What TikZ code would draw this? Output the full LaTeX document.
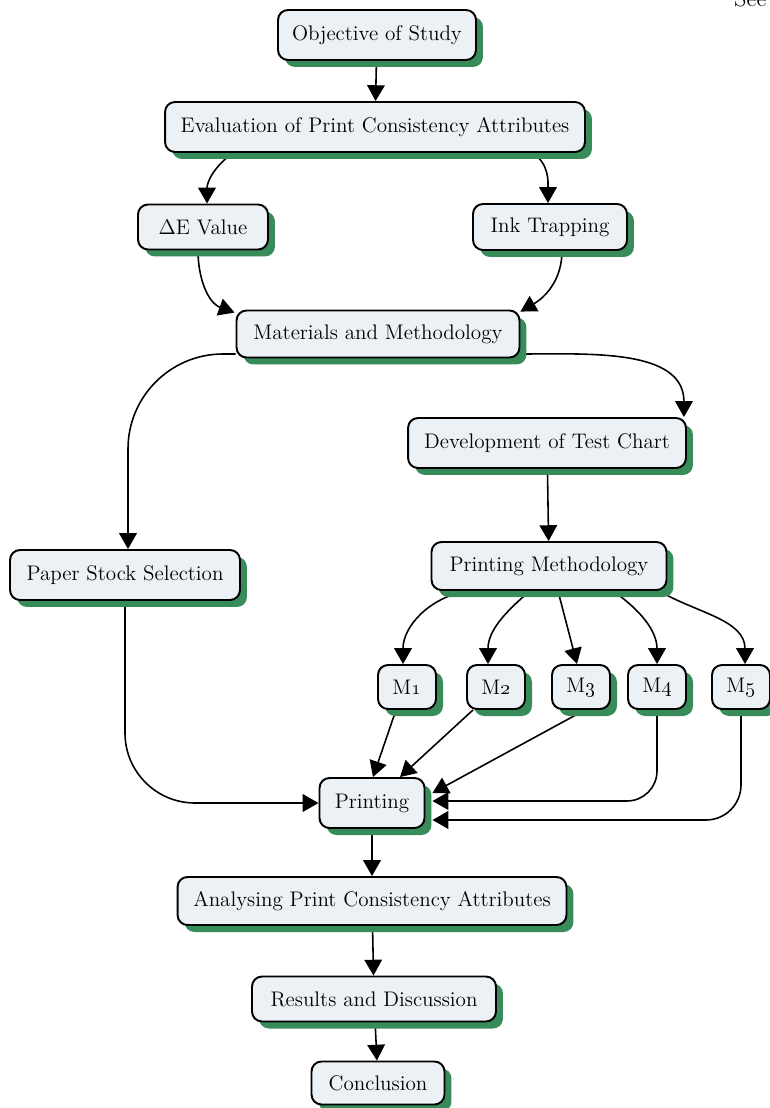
\documentclass[tikz,border=0pt]{standalone}
\usepackage{tikz}
\usetikzlibrary{arrows.meta,shadows,backgrounds}

\definecolor{boxfill}{RGB}{235,241,244}
\definecolor{shadegreen}{RGB}{55,140,90}

\begin{document}
\begin{tikzpicture}[x=0.02cm, y=0.02cm,
    stage/.style={draw, line width=1.1pt, rounded corners=0.2cm, fill=boxfill,
        font=\fontsize{12}{14}\selectfont, inner sep=2pt,
        drop shadow={shadow xshift=0.14cm, shadow yshift=-0.14cm, fill=shadegreen, opacity=1}},
    mbox/.style={stage, minimum width=1.16cm, minimum height=0.88cm},
    flow/.style={-{Triangle[width=10pt,length=9pt]}, line width=0.9pt}]
    \useasboundingbox (0,0) rectangle (769,-1108);
    % cut-off text at the top
    \node[anchor=base west, font=\fontsize{13}{15}\selectfont] (see) at (728,-7) {See};
    % boxes
    \node[stage, minimum width=3.96cm, minimum height=1cm] (obj) at (377,-35) {Objective of Study};
    \node[stage, minimum width=8.4cm, minimum height=1cm] (eval) at (375,-127) {Evaluation of Print Consistency Attributes};
    \node[stage, minimum width=2.6cm, minimum height=0.9cm] (dE) at (203,-227) {$\Delta$E Value};
    \node[stage, minimum width=3.08cm, minimum height=0.92cm] (ink) at (550,-227) {Ink Trapping};
    \node[stage, minimum width=5.66cm, minimum height=0.94cm] (mat) at (378,-334) {Materials and Methodology};
    \node[stage, minimum width=5.56cm, minimum height=1cm] (dev) at (547,-443) {Development of Test Chart};
    \node[stage, minimum width=4.6cm, minimum height=1cm] (paper) at (125,-575) {Paper Stock Selection};
    \node[stage, minimum width=4.7cm, minimum height=0.96cm] (pm) at (549,-566) {Printing Methodology};
    \foreach \i/\x in {1/407,2/496,3/581,4/657,5/741} {
        \node[mbox] (m\i) at (\x,-687) {M\oldstylenums{\i}};
    }
    \node[stage, minimum width=2.1cm, minimum height=1cm] (print) at (372,-803) {Printing};
    \node[stage, minimum width=7.78cm, minimum height=0.96cm] (ana) at (372,-901) {Analysing Print Consistency Attributes};
    \node[stage, minimum width=4.88cm, minimum height=0.9cm] (res) at (374,-999) {Results and Discussion};
    \node[stage, minimum width=2.66cm, minimum height=0.86cm] (conc) at (378,-1083) {Conclusion};
    % arrows
    \begin{scope}[on background layer]
        \draw[flow] (obj) -- (eval);
        \draw[flow] ([xshift=-2.84cm]eval.south) to[out=-145,in=90] ([xshift=0.08cm]dE.north);
        \draw[flow] ([xshift=3.16cm]eval.south) to[out=-35,in=90] ([xshift=-0.04cm]ink.north);
        \draw[flow] ([xshift=-0.1cm]dE.south) to[out=-90,in=160] ([xshift=-0.02cm,yshift=-0.06cm]mat.north west);
        \draw[flow] ([xshift=0.24cm]ink.south) to[out=-90,in=30] ([yshift=-0.04cm]mat.north east);
        \draw[flow] ([yshift=-0.4cm]mat.east) to[out=0,in=90] ([xshift=-0.06cm]dev.north east);
        \draw[flow, rounded corners=1.9cm] ([yshift=-0.4cm]mat.west) -| ([xshift=0.06cm]paper.north);
        \draw[flow] (dev) -- (pm);
        \draw[flow] ([xshift=-1.64cm]pm.south) to[out=-170,in=90] ([xshift=-0.08cm]m1.north);
        \draw[flow] ([xshift=-0.38cm]pm.south) to[out=-140,in=90] ([xshift=-0.16cm]m2.north);
        \draw[flow] ([xshift=0.18cm]pm.south) -- ([xshift=-0.08cm]m3.north);
        \draw[flow] ([xshift=1.28cm]pm.south) to[out=-35,in=90] (m4.north);
        \draw[flow] ([xshift=2.2cm]pm.south) to[out=-30,in=90] ([xshift=0.08cm]m5.north);
        \draw[flow] ([xshift=-0.22cm]m1.south) -- ([xshift=0.02cm]print.north);
        \draw[flow] ([xshift=-0.46cm]m2.south) -- ([xshift=0.56cm]print.north);
        \draw[flow] ([xshift=0.08cm]m3.south) -- ([xshift=0.14cm,yshift=0.2cm]print.east);
        \draw[flow, rounded corners=0.6cm] (m4.south) |- ([xshift=0.14cm,yshift=0.04cm]print.east);
        \draw[flow, rounded corners=0.7cm] (m5.south) |- ([xshift=0.14cm,yshift=-0.34cm]print.east);
        \draw[flow, rounded corners=1.4cm] (paper.south) |- (print.west);
        \draw[flow] (print) -- (ana);
        \draw[flow] (ana) -- (res);
        \draw[flow] (res) -- (conc);
    \end{scope}
\end{tikzpicture}
\end{document}
